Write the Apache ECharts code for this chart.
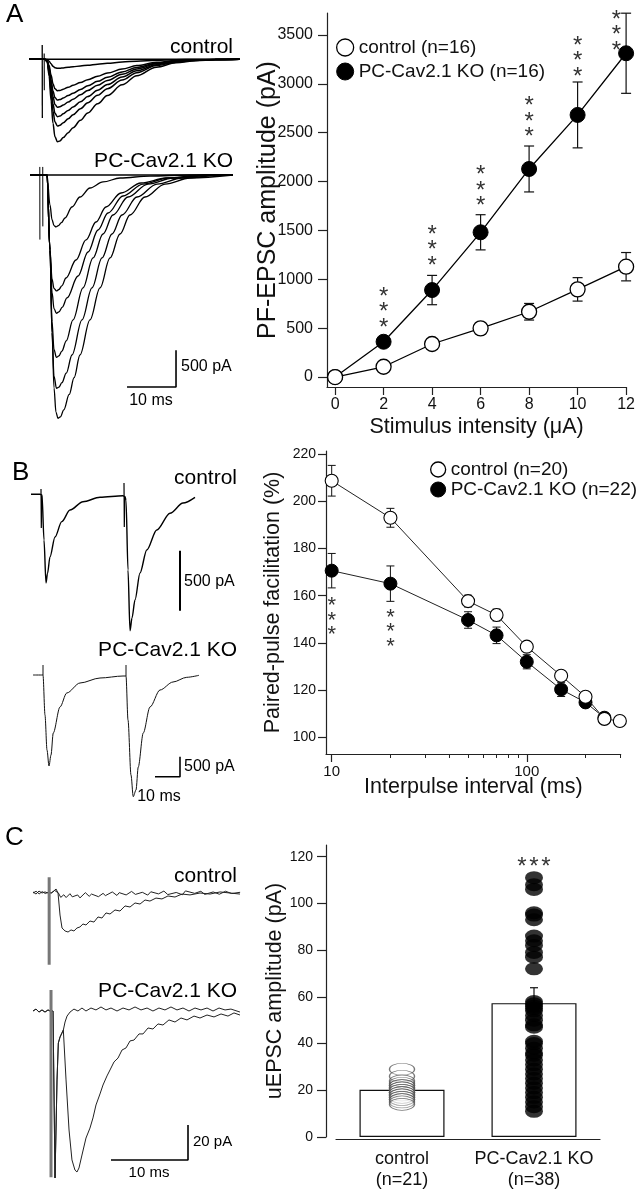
<!DOCTYPE html>
<html><head><meta charset="utf-8">
<script src="https://cdn.jsdelivr.net/npm/echarts@6/dist/echarts.min.js"></script>
<style>html,body{margin:0;padding:0;background:#fff}#c{width:638px;height:1200px}</style>
</head><body><div id="c"></div>
<script>
const FONT = '"Liberation Sans", Arial, Helvetica, sans-serif';

// ---------- Panel A summary ----------
const stimA = [0, 2, 4, 6, 8, 10, 12];
const ctlA = [0, 105, 338, 498, 668, 897, 1129];
const ctlAErr = [0, 20, 25, 60, 85, 120, 145];
const koA = [0, 361, 890, 1481, 2129, 2682, 3313];
const koAErr = [0, 50, 150, 180, 235, 337, 410];
const ticksA_x = [0, 2, 4, 6, 8, 10, 12];
const ticksA_y = [0, 500, 1000, 1500, 2000, 2500, 3000, 3500];
const starAX = [2, 4, 6, 8, 10, 11.6];
const starAY = [563, 1198, 1804, 2511, 3132, 3398];

// ---------- Panel B summary ----------
const ppfCtlX = [10, 20, 50, 70, 100, 150, 200, 250, 300];
const ppfCtl = [208.7, 193.0, 157.7, 151.8, 138.4, 126.1, 117.2, 107.8, 106.9];
const ppfCtlErr = [6.5, 4, 2.5, 2.5, 2, 2, 1.5, 1, 1];
const ppfKoX = [10, 20, 50, 70, 100, 150, 200, 250];
const ppfKo = [170.6, 165.1, 149.7, 143.2, 132.0, 120.3, 114.8, 108.3];
const ppfKoErr = [7.3, 7.5, 3.5, 3.5, 3, 3, 2, 1];
const ticksB_y = [100, 120, 140, 160, 180, 200, 220];
const ticksB_xMajor = [10, 100];
const ticksB_xMinor = [20, 30, 40, 50, 60, 70, 80, 90, 200, 300];
const starBX = [10, 20];
const starBY = [158.2, 153.2];

// ---------- Panel C summary ----------
const catC = ['control', 'PC-Cav2.1 KO'];
const nC = [21, 38];
const barC = [20.2, 57.3];
const errC = [1.0, 6.6];
const ctlPts = [29, 26, 24, 23, 22, 22, 21, 21, 20, 20, 19, 19, 19, 18, 18, 17, 17, 16, 16, 15, 14];
const koPts = [111, 108, 106, 96, 95, 93, 86, 84, 82, 79, 77, 72, 58, 57, 56, 55, 54, 52, 50, 48, 47,
               41, 40, 38, 36, 35, 33, 31, 29, 27, 25, 23, 21, 19, 17, 15, 13, 11];
const ticksC_y = [0, 20, 40, 60, 80, 100, 120];
const starCX = [1];
const starCY = [117.9];

// ---------- Traces A (ms, pA) ----------
const tA = [0, 3.2, 3.7, 4.1, 4.5, 4.9, 5.3, 5.8, 6.3, 7.0, 8.0, 9.0, 10.5, 12, 14, 16, 19, 22, 26, 30, 34, 38, 43];
const ctlTr0 = [0,0,0,0,0,0,0,0,0,0,0,0,0,0,0,0,0,0,0,0,0,0,0];
const ctlTr1 = [0,0,-4,-25,-62,-96,-116,-123,-122,-117,-109,-102,-91,-80,-66,-54,-38,-25,-12,-5,-2,-1,0];
const ctlTr2 = [0,0,-13,-86,-214,-334,-402,-428,-424,-407,-381,-355,-317,-278,-231,-188,-133,-86,-41,-18,-7,-2,0];
const ctlTr3 = [0,0,-17,-111,-278,-433,-522,-555,-549,-527,-494,-461,-411,-361,-300,-244,-172,-111,-53,-24,-9,-3,0];
const ctlTr4 = [0,0,-20,-131,-327,-510,-615,-654,-647,-621,-582,-543,-484,-425,-353,-288,-203,-131,-62,-28,-11,-3,0];
const ctlTr5 = [0,0,-23,-156,-391,-610,-735,-782,-774,-743,-696,-649,-579,-508,-422,-344,-242,-156,-74,-34,-13,-4,0];
const ctlTr6 = [0,0,-27,-182,-455,-709,-854,-909,-900,-864,-809,-754,-673,-591,-491,-400,-282,-182,-86,-39,-15,-5,0];
const ctlTr7 = [0,0,-34,-225,-562,-876,-1056,-1123,-1112,-1067,-999,-932,-831,-730,-606,-494,-348,-225,-107,-48,-19,-6,0];
const ctlArtA1 = [[2.7,195],[2.72,-800]];
const ctlArtA2 = [[3.1,80],[3.12,-420]];

const koTr0 = [[0,0],[41.4,0]];
const koTr1 = [[0,0],[3.47,0],[4.08,-409],[4.5,-610],[4.9,-690],[5.3,-708],[5.8,-690],[6.4,-650],[7.14,-586],[8.57,-436],[10.2,-300],[12.24,-177],[14.9,-95],[18.37,-41],[24.5,-14],[32.65,0],[41.4,0]];
const koTr2 = [[0,0],[3.47,0],[4.08,-1022],[4.5,-1420],[4.9,-1545],[5.4,-1580],[5.9,-1560],[6.5,-1510],[7.35,-1403],[9.39,-1158],[11.43,-885],[13.47,-640],[15.51,-436],[18.57,-245],[22.65,-109],[27.76,-41],[35.7,0],[41.4,0]];
const koTr3 = [[0,0],[3.47,0],[4.08,-1022],[4.5,-1600],[4.9,-1820],[5.4,-1884],[5.9,-1865],[6.6,-1800],[7.55,-1675],[9.8,-1376],[11.84,-1049],[13.88,-749],[15.92,-518],[18.98,-286],[23.06,-123],[28.16,-41],[36.94,0],[41.4,0]];
const koTr4 = [[0,0],[3.47,0],[4.08,-1022],[4.5,-2000],[4.9,-2380],[5.4,-2484],[5.9,-2465],[6.5,-2400],[7.4,-2260],[8.78,-1975],[10.82,-1539],[12.86,-1130],[14.9,-804],[16.94,-545],[20.0,-300],[24.08,-123],[29.18,-41],[37.96,0],[41.4,0]];
const koTr5 = [[0,0],[3.47,0],[4.08,-1022],[4.5,-2150],[4.9,-2740],[5.4,-2906],[5.9,-2890],[6.5,-2830],[7.4,-2700],[8.57,-2452],[10.61,-1975],[12.65,-1539],[14.69,-1130],[16.73,-804],[18.78,-545],[21.84,-300],[25.92,-123],[31.02,-41],[39.8,0],[41.4,0]];
const koTr6 = [[0,0],[3.47,0],[4.08,-1022],[4.5,-2150],[4.9,-2900],[5.3,-3230],[5.7,-3315],[6.2,-3295],[6.9,-3200],[8.0,-2990],[9.0,-2760],[10.2,-2452],[12.24,-1975],[14.29,-1539],[16.33,-1130],[18.37,-804],[20.41,-545],[23.47,-300],[27.55,-123],[32.65,-41],[41.4,0]];
const koArtA1 = [[2.0,110],[2.02,-880]];
const koArtA2 = [[2.6,110],[2.62,-700]];
const scaleA = [[19.8,-2888],[29.8,-2888],[29.8,-2388]];

// ---------- Traces B ----------
const ctlTrB = [[0,0],[3.6,0],[4.4,-6],[5.2,-381],[6.0,-739],[6.6,-660],[7.6,-522],[9.6,-356],[12.3,-228],[15.6,-131],[20.8,-62],[27.6,-25],[36.8,-12],[37.6,-20],[38.0,-50],[38.8,-630],[39.6,-1137],[40.4,-1030],[41.6,-881],[43.6,-656],[46.3,-464],[50.3,-297],[55.6,-158],[60.8,-73],[65.6,-25]];
const ctlArtB1 = [[4.0,44],[4.12,-281],[4.3,-10]];
const ctlArtB2 = [[37.2,94],[37.32,-272],[37.5,-20]];
const scaleBc = [[59.6,-470],[59.6,-970]];
const koTrB = [[0,0],[4.0,0],[4.8,-1000],[5.6,-1875],[6.4,-2275],[7.2,-2000],[8.1,-1450],[10.8,-800],[13.5,-450],[18.8,-200],[26.8,-75],[36,-25],[37.2,-25],[38.0,-1125],[39.2,-2500],[40.1,-3042],[41.2,-2875],[42.1,-2300],[44.1,-1450],[46.8,-800],[50.8,-375],[56,-175],[61.5,-58],[66.4,-8]];
const koArtB1 = [[4.0,0],[4.0,250]];
const koArtB2 = [[37.2,-25],[37.2,250]];
const scaleBk = [[48.8,-2542],[58.8,-2542],[58.8,-2042]];

// ---------- Traces C ----------
const ctlTrC1 = [[0,0.6],[0.39,-0.6],[0.78,1.1],[1.17,0],[1.56,0.6],[1.95,0],[2.34,0],[2.73,1.1],[2.99,2.3],[3.25,0],[3.51,-12.6],[3.77,-20],[4.16,-21.7],[4.55,-22.3],[4.94,-21.1],[5.32,-21.7],[5.71,-20],[6.10,-19.4],[6.49,-17.7],[6.88,-18.3],[7.40,-16],[7.92,-16.6],[8.44,-13.7],[8.96,-14.3],[9.48,-11.4],[10.0,-12],[10.65,-9.7],[11.3,-10.3],[11.95,-7.4],[12.6,-8],[13.25,-5.7],[13.9,-6.3],[14.55,-4],[15.19,-4.6],[15.97,-2.9],[16.75,-3.4],[17.53,-1.7],[18.44,-2.3],[19.35,-0.6],[20.39,-1.1],[21.69,0],[22.99,-0.6],[24.29,0.6],[25.58,0],[26.88,-0.6]];
const ctlTrC0 = [[0,0],[0.4,1],[0.8,-0.5],[1.2,0.8],[1.6,-0.3],[2.0,0.5],[2.4,0],[2.8,1.5],[3.0,2.3],[3.3,0],[3.6,-2.5],[4.0,-1],[4.3,-2.6],[4.8,-0.4],[5.1,-2.2],[5.8,-1.1],[6.1,-2.8],[6.8,0.2],[7.3,-1.9],[7.6,-0.6],[8.5,-2.1],[9.1,-0.2],[9.4,-1.5],[10.3,0.6],[10.9,-1.4],[11.2,0.2],[12.1,-1.1],[12.8,0.9],[13.3,-0.8],[14.2,0.4],[14.9,-1.2],[15.3,0.7],[16.3,-0.5],[17,1.1],[17.5,-0.9],[18.6,0.3],[19.4,-1],[19.8,1.2],[21,-0.2],[21.8,1],[22.3,-0.8],[23.4,0.6],[24.2,-0.7],[25,1],[25.8,-0.3],[26.9,0.4]];
const ctlArtC = [[2.1,9],[2.1,-41]];
const koTrC1 = [[0,0],[0.39,1.1],[0.78,-0.6],[1.17,0.6],[1.56,-0.6],[1.95,0.6],[2.21,0],[2.6,0],[2.86,-95.4],[3.12,-39.4],[3.29,-18.3],[3.51,-14.9],[3.94,-10.9],[4.29,-39.4],[4.68,-68],[5.06,-85.1],[5.45,-90.9],[5.71,-92],[5.97,-89.7],[6.36,-82.3],[6.88,-72.6],[7.40,-66.9],[7.79,-61.1],[8.18,-53.7],[8.70,-47.4],[9.09,-42.3],[9.61,-37.1],[10.0,-33.7],[10.52,-29.1],[11.04,-26.9],[11.56,-22.3],[12.08,-21.1],[12.6,-17.1],[13.12,-16.6],[13.77,-13.1],[14.29,-13.1],[14.94,-9.7],[15.58,-10.3],[16.23,-7.4],[16.88,-8],[17.66,-5.1],[18.44,-6.3],[19.22,-4],[20.0,-5.1],[20.91,-2.9],[21.69,-4],[22.6,-2.3],[23.51,-3.4],[24.42,-1.7],[25.32,-2.9],[26.1,-1.1],[26.88,-2.3]];
const koTrC0 = [[0,0],[0.39,1.1],[0.78,-0.6],[1.17,0.6],[1.56,-0.6],[1.95,0.6],[2.21,0],[2.6,0],[2.86,-95.4],[3.12,-39.4],[3.29,-18.3],[3.51,-14.9],[3.94,-10.9],[4.16,-6.3],[4.42,-2.9],[4.81,-0.6],[5.32,1.1],[5.84,0],[6.36,1.7],[6.88,0],[7.53,1.7],[8.18,0.6],[8.83,2.3],[9.48,0.6],[10.13,1.7],[10.91,0],[11.69,1.7],[12.47,0.6],[13.25,2.3],[14.03,0.6],[14.81,1.7],[15.58,0],[16.36,1.7],[17.14,0.6],[17.92,2.3],[18.7,0.6],[19.48,1.7],[20.26,0],[21.04,1.7],[21.82,0.6],[22.6,1.7],[23.38,0],[24.16,1.7],[24.94,0.6],[25.71,1.1],[26.88,-0.6]];
const koArtC = [[2.34,12],[2.34,-95]];
const scaleC = [[10.13,-85.1],[20.13,-85.1],[20.13,-65.1]];

// ---------- helpers ----------
function pairs(t, v) { return t.map((x, i) => [x, v[i]]); }
function errRender(cap, mode, width) {
  return function (params, api) {
    const x = api.value(0), y = api.value(1), e = api.value(2);
    const top = api.coord([x, y + e]);
    const bot = api.coord([x, mode === 'up' ? y : y - e]);
    const st = { stroke: '#111', lineWidth: width || 1.2 };
    const ch = [
      { type: 'line', shape: { x1: top[0], y1: top[1], x2: bot[0], y2: bot[1] }, style: st },
      { type: 'line', shape: { x1: top[0] - cap, y1: top[1], x2: top[0] + cap, y2: top[1] }, style: st }
    ];
    if (mode !== 'up') ch.push({ type: 'line', shape: { x1: bot[0] - cap, y1: bot[1], x2: bot[0] + cap, y2: bot[1] }, style: st });
    return { type: 'group', children: ch };
  };
}
function starRender(dir, step, size, dy) {
  return function (params, api) {
    const p = api.coord([api.value(0), api.value(1)]);
    const ch = [];
    for (let i = 0; i < 3; i++) {
      let x = p[0], y = p[1] + dy;
      if (dir === 'up') y -= i * step; else if (dir === 'down') y += i * step; else x += (i - 1) * step;
      ch.push({ type: 'text', x: x, y: y, style: { text: '*', fontSize: size, fontFamily: FONT, fill: '#333',
        align: 'center', verticalAlign: 'middle', textAlign: 'center', textVerticalAlign: 'middle' } });
    }
    return { type: 'group', children: ch };
  };
}
function T(text, x, y, size, align) {
  return { type: 'text', x: x, y: y, silent: true, style: { text: text, fontSize: size, fontFamily: FONT, fill: '#000',
    align: align, textAlign: align, verticalAlign: 'middle', textVerticalAlign: 'middle' } };
}
const axisTxt = { color: '#111', fontFamily: FONT };
const plain = v => String(v);
const hid = (gi, min, max) => ({ type: 'value', gridIndex: gi, min: min, max: max, show: false });
// trace grids: xAxis index = grid index + 1, yAxis index = grid index
function trace(gi, data, w, color, smooth) {
  return { type: 'line', xAxisIndex: gi + 1, yAxisIndex: gi, data: data, symbol: 'none', silent: true,
    smooth: smooth || false, smoothMonotone: 'x',
    lineStyle: { color: color || '#000', width: w || 1.3 }, z: 3 };
}

const grids = [
  { left: 327, top: 13, width: 300, height: 374 },      // 0 A
  { left: 326, top: 451, width: 294.7, height: 303 },   // 1 B
  { left: 336, top: 845, width: 264, height: 292 },     // 2 C
  { left: 29, top: 20, width: 215, height: 140 },       // 3 trace A ctl
  { left: 30, top: 150, width: 215, height: 270 },      // 4 trace A ko
  { left: 31, top: 470, width: 175, height: 170 },      // 5 trace B ctl
  { left: 33, top: 650, width: 175, height: 160 },      // 6 trace B ko
  { left: 33, top: 860, width: 210, height: 120 },      // 7 trace C ctl
  { left: 33, top: 980, width: 210, height: 210 }       // 8 trace C ko
];

const xAxes = [
  { type: 'value', gridIndex: 0, min: -1 / 3, max: 12,
    axisLine: { onZero: false, lineStyle: { color: '#222', width: 1.2 } },
    axisTick: { customValues: ticksA_x, length: 8, lineStyle: { color: '#222', width: 1.2 } },
    axisLabel: { customValues: ticksA_x, fontSize: 16, margin: 10, formatter: plain, ...axisTxt },
    splitLine: { show: false },
    name: 'Stimulus intensity (μA)', nameLocation: 'middle', nameGap: 29, nameMoveOverlap: false,
    nameTextStyle: { fontSize: 21.5, ...axisTxt } },
  { type: 'log', gridIndex: 1, min: 9.35, max: 303, position: 'bottom',
    axisLine: { onZero: false, lineStyle: { color: '#222', width: 1.2 } },
    axisTick: { customValues: ticksB_xMajor, length: 8, lineStyle: { color: '#222', width: 1.2 } },
    axisLabel: { customValues: ticksB_xMajor, fontSize: 15, margin: 10, formatter: plain, ...axisTxt },
    splitLine: { show: false }, minorTick: { show: false },
    name: 'Interpulse interval (ms)', nameLocation: 'middle', nameGap: 22, nameMoveOverlap: false,
    nameTextStyle: { fontSize: 21.5, ...axisTxt } },
  { type: 'log', gridIndex: 1, min: 9.35, max: 303, position: 'bottom',
    axisLine: { show: false, onZero: false },
    axisTick: { customValues: ticksB_xMinor, length: 4, lineStyle: { color: '#222', width: 1 } },
    axisLabel: { show: false }, splitLine: { show: false } },
  { type: 'category', gridIndex: 2, data: catC.map((c, i) => c + '\n(n=' + nC[i] + ')'), offset: 2,
    boundaryGap: true,
    axisLine: { onZero: false, lineStyle: { color: '#222', width: 1.2 } },
    axisTick: { length: 5, lineStyle: { color: '#222', width: 1.2 } },
    axisLabel: { fontSize: 18, lineHeight: 21, margin: 10, interval: 0, hideOverlap: false, ...axisTxt } },
  hid(3, 0, 215 / 4.9), hid(4, 0, 215 / 4.9), hid(5, 0, 70), hid(6, 0, 70), hid(7, 0, 210 / 7.7), hid(8, 0, 210 / 7.7)
];
const yAxes = [
  { type: 'value', gridIndex: 0, min: -102, max: 3725,
    axisLine: { show: true, onZero: false, lineStyle: { color: '#222', width: 1.2 } },
    axisTick: { show: true, customValues: ticksA_y, length: 9, lineStyle: { color: '#222', width: 1.2 } },
    axisLabel: { customValues: ticksA_y, fontSize: 16, margin: 14, formatter: plain, ...axisTxt },
    splitLine: { show: false },
    name: 'PF-EPSC amplitude (pA)', nameLocation: 'middle', nameGap: 46, nameRotate: 90, nameMoveOverlap: false,
    nameTextStyle: { fontSize: 25, ...axisTxt } },
  { type: 'value', gridIndex: 1, min: 92.93, max: 221.3,
    axisLine: { show: true, onZero: false, lineStyle: { color: '#222', width: 1.2 } },
    axisTick: { show: true, customValues: ticksB_y, length: 8, lineStyle: { color: '#222', width: 1.2 } },
    axisLabel: { customValues: ticksB_y, fontSize: 14, margin: 10, formatter: plain, ...axisTxt },
    splitLine: { show: false },
    name: 'Paired-pulse facilitation (%)', nameLocation: 'middle', nameGap: 42, nameRotate: 90, nameMoveOverlap: false,
    nameTextStyle: { fontSize: 21.5, ...axisTxt } },
  { type: 'value', gridIndex: 2, min: 0, max: 125, offset: 10,
    axisLine: { show: true, onZero: false, lineStyle: { color: '#222', width: 1.2 } },
    axisTick: { show: true, customValues: ticksC_y, length: 9, lineStyle: { color: '#222', width: 1.2 } },
    axisLabel: { customValues: ticksC_y, fontSize: 14, margin: 13, formatter: plain, ...axisTxt },
    splitLine: { show: false },
    name: 'uEPSC amplitude (pA)', nameLocation: 'middle', nameGap: 40, nameRotate: 90, nameMoveOverlap: false,
    nameTextStyle: { fontSize: 21.5, ...axisTxt } },
  hid(3, -(160 - 59.3) / 0.0734, (59.3 - 20) / 0.0734),
  hid(4, -(420 - 175) / 0.0734, (175 - 150) / 0.0734),
  hid(5, -(640 - 494.3) / 0.12, (494.3 - 470) / 0.12),
  hid(6, -(810 - 675) / 0.04, (675 - 650) / 0.04),
  hid(7, -(980 - 893) / 1.75, 33 / 1.75),
  hid(8, -(1190 - 1011) / 1.75, 31 / 1.75)
];

const openSym = { color: '#fff', borderColor: '#000', borderWidth: 1.3 };
const fillSym = { color: '#000', borderColor: '#000', borderWidth: 1 };

const series = [
  // A summary
  { type: 'custom', xAxisIndex: 0, yAxisIndex: 0, renderItem: errRender(5, 'both', 1.2), clip: false, z: 2, silent: true,
    data: stimA.map((x, i) => [x, koA[i], koAErr[i]]) },
  { type: 'custom', xAxisIndex: 0, yAxisIndex: 0, renderItem: errRender(5, 'both', 1.2), clip: false, z: 2, silent: true,
    data: stimA.map((x, i) => [x, ctlA[i], ctlAErr[i]]) },
  { type: 'line', name: 'PC-Cav2.1 KO (n=16)', xAxisIndex: 0, yAxisIndex: 0, data: pairs(stimA, koA),
    symbol: 'circle', symbolSize: 15, itemStyle: fillSym, lineStyle: { color: '#000', width: 1.3 }, z: 3 },
  { type: 'line', name: 'control (n=16)', xAxisIndex: 0, yAxisIndex: 0, data: pairs(stimA, ctlA),
    symbol: 'circle', symbolSize: 15, itemStyle: openSym, lineStyle: { color: '#000', width: 1.3 }, z: 4 },
  { type: 'custom', xAxisIndex: 0, yAxisIndex: 0, renderItem: starRender('up', 15.5, 24, 6), clip: false, z: 5, silent: true,
    data: pairs(starAX, starAY) },

  // B summary
  { type: 'custom', xAxisIndex: 1, yAxisIndex: 1, renderItem: errRender(4, 'both', 1), clip: false, z: 2, silent: true,
    data: ppfKoX.map((x, i) => [x, ppfKo[i], ppfKoErr[i]]) },
  { type: 'custom', xAxisIndex: 1, yAxisIndex: 1, renderItem: errRender(4, 'both', 1), clip: false, z: 2, silent: true,
    data: ppfCtlX.map((x, i) => [x, ppfCtl[i], ppfCtlErr[i]]) },
  { type: 'line', name: 'PC-Cav2.1 KO (n=22)', xAxisIndex: 1, yAxisIndex: 1, data: pairs(ppfKoX, ppfKo),
    symbol: 'circle', symbolSize: 13, itemStyle: fillSym, lineStyle: { color: '#222', width: 1 }, z: 3 },
  { type: 'line', name: 'control (n=20)', xAxisIndex: 1, yAxisIndex: 1, data: pairs(ppfCtlX, ppfCtl),
    symbol: 'circle', symbolSize: 13, itemStyle: { color: '#fff', borderColor: '#000', borderWidth: 1.1 },
    lineStyle: { color: '#222', width: 1 }, z: 4 },
  { type: 'custom', xAxisIndex: 1, yAxisIndex: 1, renderItem: starRender('down', 14.5, 22, 6), clip: false, z: 5, silent: true,
    data: pairs(starBX, starBY) },

  // C summary
  { type: 'bar', xAxisIndex: 3, yAxisIndex: 2, data: barC, barWidth: 85, silent: true,
    itemStyle: { color: '#fff', borderColor: '#111', borderWidth: 1.2 }, z: 2 },
  { type: 'custom', xAxisIndex: 3, yAxisIndex: 2, renderItem: errRender(4, 'up', 1.2), clip: false, z: 3, silent: true,
    data: barC.map((v, i) => [i, v, errC[i]]) },
  { type: 'scatter', xAxisIndex: 3, yAxisIndex: 2, data: ctlPts.map(v => [0, v]), symbol: 'circle', symbolSize: [25, 12],
    itemStyle: { color: 'rgba(255,255,255,0.35)', borderColor: '#555', borderWidth: 1 }, z: 4, silent: true },
  { type: 'scatter', xAxisIndex: 3, yAxisIndex: 2, data: koPts.map(v => [1, v]), symbol: 'circle', symbolSize: [18, 13],
    itemStyle: { color: '#000' }, z: 4, silent: true },
  { type: 'custom', xAxisIndex: 3, yAxisIndex: 2, renderItem: starRender('h', 12, 24, 6), clip: false, z: 5, silent: true,
    data: pairs(starCX, starCY) },

  // Traces A
  ...[ctlTr0, ctlTr1, ctlTr2, ctlTr3, ctlTr4, ctlTr5, ctlTr6, ctlTr7].map(v => trace(3, pairs(tA, v), 1.5, '#000', 0.35)),
  trace(3, ctlArtA1, 1.3, '#000'),
  trace(3, ctlArtA2, 1.1, '#000'),
  ...[koTr0, koTr1, koTr2, koTr3, koTr4, koTr5, koTr6].map(v => trace(4, v, 1.3, '#000', 0.35)),
  trace(4, koArtA1, 1, '#000'),
  trace(4, koArtA2, 1, '#000'),
  trace(4, scaleA, 1.6, '#000'),
  // Traces B
  trace(5, ctlTrB, 1.4, '#000', 0.3),
  trace(5, ctlArtB1, 1.2, '#000'),
  trace(5, ctlArtB2, 1.2, '#000'),
  trace(5, scaleBc, 2, '#000'),
  trace(6, koTrB, 1, '#111', 0.3),
  trace(6, koArtB1, 1, '#111'),
  trace(6, koArtB2, 1, '#111'),
  trace(6, scaleBk, 1.6, '#000'),
  // Traces C
  trace(7, ctlTrC0, 1, '#222'),
  trace(7, ctlTrC1, 1, '#222'),
  trace(7, ctlArtC, 3, '#777'),
  trace(8, koTrC0, 1, '#222'),
  trace(8, koTrC1, 1, '#222'),
  trace(8, koArtC, 3, '#777'),
  trace(8, scaleC, 1.6, '#000')
];

const chart = echarts.init(document.getElementById('c'), null, { renderer: 'canvas' });
chart.setOption({
  animation: false,
  backgroundColor: '#fff',
  grid: grids,
  xAxis: xAxes,
  yAxis: yAxes,
  legend: [
    { data: [{ name: 'control (n=16)', itemStyle: openSym }, { name: 'PC-Cav2.1 KO (n=16)', itemStyle: fillSym }],
      orient: 'vertical', left: 336, top: 38, icon: 'circle', itemWidth: 17, itemHeight: 17, itemGap: 5, padding: 0,
      selectedMode: false, textStyle: { fontSize: 19, color: '#111', fontFamily: FONT } },
    { data: [{ name: 'control (n=20)', itemStyle: openSym }, { name: 'PC-Cav2.1 KO (n=22)', itemStyle: fillSym }],
      orient: 'vertical', left: 430, top: 460, icon: 'circle', itemWidth: 15, itemHeight: 15, itemGap: 1, padding: 0,
      selectedMode: false, textStyle: { fontSize: 19, color: '#111', fontFamily: FONT } }
  ],
  graphic: { elements: [
    T('A', 6, 15, 26, 'left'),
    T('control', 233, 47, 21, 'right'),
    T('PC-Cav2.1 KO', 233, 161, 21, 'right'),
    T('500 pA', 181, 367, 16, 'left'),
    T('10 ms', 151, 401, 16, 'center'),
    T('B', 12, 473, 26, 'left'),
    T('control', 237, 478, 21, 'right'),
    T('PC-Cav2.1 KO', 237, 650, 21, 'right'),
    T('500 pA', 184, 582, 16, 'left'),
    T('500 pA', 184, 767, 16, 'left'),
    T('10 ms', 159, 797, 16, 'center'),
    T('C', 5, 838, 26, 'left'),
    T('control', 237, 876, 21, 'right'),
    T('PC-Cav2.1 KO', 237, 991, 21, 'right'),
    T('20 pA', 193, 1142, 15, 'left'),
    T('10 ms', 149, 1173, 15, 'center')
  ] },
  series: series
});
</script></body></html>
